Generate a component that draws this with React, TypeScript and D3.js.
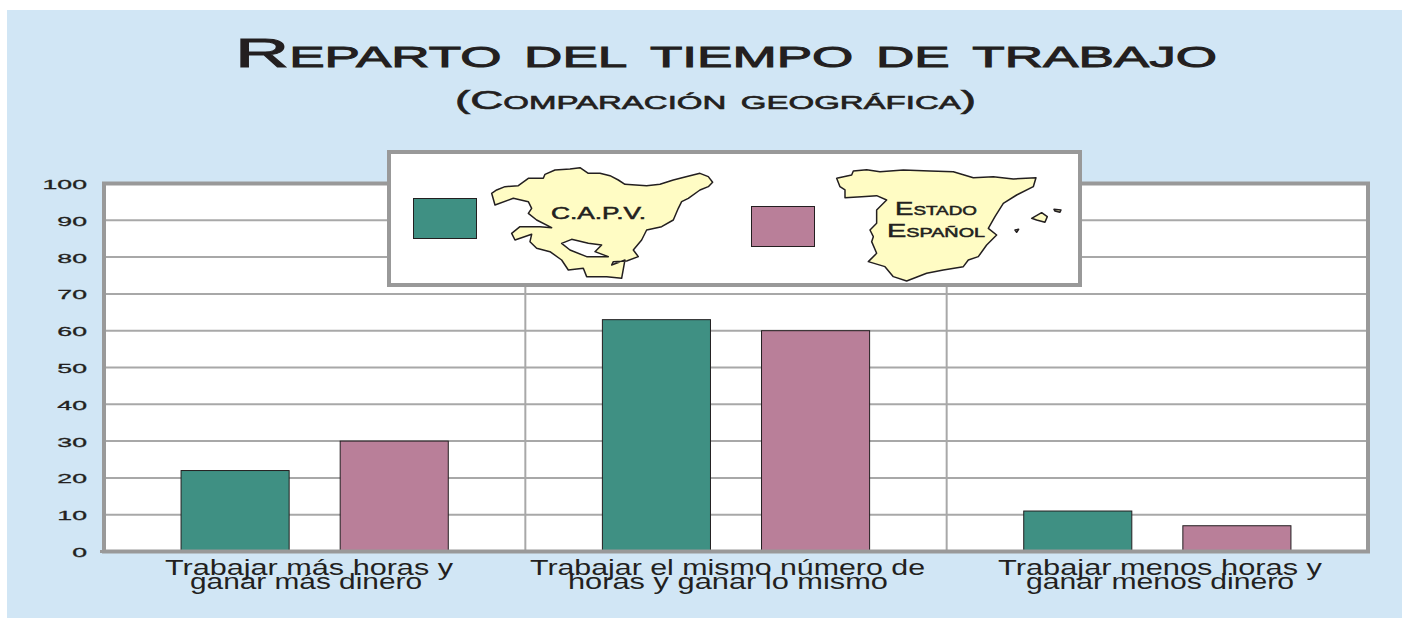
import React, { useRef, useEffect } from 'react';
import * as d3 from 'd3';

const WIDTH = 1402;
const HEIGHT = 619;

const categories = ['mas', 'igual', 'menos'];
const categoryLines = [
  ['Trabajar más horas y', 'ganar más dinero'],
  ['Trabajar el mismo número de', 'horas y ganar lo mismo'],
  ['Trabajar menos horas y', 'ganar menos dinero'],
];
const lineStarts = [[165, 190], [530, 568], [998, 1026]];
const lineWidths = [[288, 232], [395, 320], [324, 268]];
const series = ['capv', 'estado'];
const capvValues = [22, 63, 11];
const estadoValues = [30, 60, 7];
const yTicks = [0, 10, 20, 30, 40, 50, 60, 70, 80, 90, 100];

const COLORS = { capv: '#3f9083', estado: '#b97f99' };
const BG = '#d1e6f5';
const GRID = '#a8a8a8';
const FRAME = '#999999';
const INK = '#231f20';
const CREAM = '#fffcc4';
const SANS = '"Liberation Sans", Arial, sans-serif';

// map outlines, traced by eye (local drawing units, 3 per pixel)
const capvOutline = [[335,145],[350,135],[375,125],[415,122],[445,100],[490,100],[495,88],[525,75],[570,72],[600,68],[625,85],[660,85],[690,92],[715,105],[735,118],[800,122],[840,118],[880,105],[930,92],[960,85],[985,95],[998,112],[985,125],[960,135],[925,160],[905,170],[895,190],[880,225],[845,245],[800,255],[785,285],[760,315],[775,335],[740,348],[700,350],[695,360],[735,345],[725,400],[680,395],[620,395],[610,370],[565,375],[545,345],[510,320],[470,310],[450,290],[455,268],[405,285],[395,265],[420,245],[480,245],[515,248],[470,225],[445,205],[455,190],[445,170],[400,160],[345,180]];
const capvHole = [[545,295],[575,283],[625,295],[665,300],[645,320],[685,335],[620,335],[570,315]];
const spainOutline = [[320,100],[365,90],[370,78],[410,74],[450,80],[520,75],[600,78],[670,80],[730,98],[790,95],[850,102],[918,98],[910,125],[860,150],[820,175],[795,215],[775,250],[800,270],[770,300],[745,335],[715,345],[700,365],[640,375],[590,385],[530,408],[490,395],[465,365],[415,350],[440,325],[425,290],[430,275],[420,255],[440,235],[440,195],[470,165],[440,152],[395,155],[345,158],[345,135],[330,125]];
const spainIslands = [
  [[905,220],[935,203],[952,215],[945,232],[920,225]],
  [[972,193],[993,195],[990,202],[975,198]],
  [[855,255],[866,253],[860,262]],
];

const App = () => {
  const svgRef = useRef<SVGSVGElement>(null);

  useEffect(() => {
    const svg = d3.select(svgRef.current);
    svg.selectAll('*').remove();

    svg.append('rect').attr('x', 7).attr('y', 10).attr('width', WIDTH - 7).attr('height', 608).attr('fill', BG);

    const margin = { top: 183.5, right: 34, bottom: 67.5, left: 104 };
    const plotWidth = WIDTH - margin.left - margin.right;
    const plotHeight = HEIGHT - margin.top - margin.bottom;
    const x0 = d3.scaleBand().domain(categories).range([margin.left, WIDTH - margin.right]);
    const x1 = d3.scaleBand().domain(series).range([0, x0.bandwidth()]).paddingInner(51 / 159).paddingOuter(77 / 159);
    const y = d3.scaleLinear().domain([0, 100]).range([HEIGHT - margin.bottom, margin.top]);

    svg.append('rect')
      .attr('x', margin.left).attr('y', margin.top)
      .attr('width', plotWidth).attr('height', plotHeight)
      .attr('fill', '#fff');

    // y axis: gridlines and stretched labels
    const yAxis = svg.append('g')
      .attr('transform', `translate(${margin.left},0)`)
      .call(d3.axisLeft(y).tickValues(yTicks).tickSize(-plotWidth).offset(0).tickFormat(d3.format('d')));
    yAxis.select('.domain').remove();
    yAxis.selectAll('.tick line').attr('stroke', GRID).attr('stroke-width', 2);
    yAxis.selectAll('.tick text')
      .attr('x', null).attr('dy', null)
      .attr('transform', 'translate(-17,5.5) scale(2.05,1)')
      .attr('text-anchor', 'end')
      .attr('fill', INK)
      .attr('stroke', INK)
      .attr('stroke-width', 0.3)
      .style('font-family', SANS)
      .style('font-size', '13px');

    // group dividers
    svg.append('g').selectAll('line')
      .data(categories.slice(1))
      .enter().append('line')
      .attr('x1', d => x0(d)).attr('x2', d => x0(d))
      .attr('y1', margin.top).attr('y2', y(0))
      .attr('stroke', GRID).attr('stroke-width', 2);

    // bars
    const groups = svg.append('g').selectAll('g')
      .data(categories)
      .enter().append('g')
      .attr('transform', d => `translate(${x0(d)},0)`);
    groups.selectAll('rect')
      .data((d, i) => [
        { key: 'capv', value: capvValues[i] },
        { key: 'estado', value: estadoValues[i] },
      ])
      .enter().append('rect')
      .attr('x', d => x1(d.key))
      .attr('y', d => y(d.value))
      .attr('width', x1.bandwidth())
      .attr('height', d => y(0) - y(d.value))
      .attr('fill', d => COLORS[d.key])
      .attr('stroke', INK)
      .attr('stroke-width', 1);

    // plot frame
    svg.append('rect')
      .attr('x', margin.left).attr('y', margin.top)
      .attr('width', plotWidth).attr('height', plotHeight)
      .attr('fill', 'none').attr('stroke', FRAME).attr('stroke-width', 4);
    svg.append('line')
      .attr('x1', 100).attr('x2', margin.left).attr('y1', y(0)).attr('y2', y(0))
      .attr('stroke', FRAME).attr('stroke-width', 3);

    // category labels
    categories.forEach((c, i) => {
      categoryLines[i].forEach((t, j) => {
        svg.append('text')
          .attr('x', lineStarts[i][j]).attr('y', 575 + j * 14)
          .attr('textLength', lineWidths[i][j])
          .attr('lengthAdjust', 'spacingAndGlyphs')
          .attr('fill', INK)
          .style('font-family', SANS)
          .style('font-size', '22px')
          .text(t);
      });
    });

    // titles
    const smallCaps = (txt, tx, ty, size, len, thicken = 0, wordGap = 0) =>
      svg.append('text')
        .attr('x', tx).attr('y', ty)
        .attr('textLength', len)
        .attr('lengthAdjust', 'spacingAndGlyphs')
        .attr('fill', INK)
        .attr('stroke', INK)
        .attr('stroke-width', thicken)
        .style('font-family', SANS)
        .style('font-variant', 'small-caps')
        .style('word-spacing', `${wordGap}px`)
        .style('font-size', `${size}px`)
        .text(txt);

    smallCaps('Reparto del tiempo de trabajo', 235, 67, 41, 982, 0.9, 1);
    smallCaps('(Comparación geográfica)', 455, 109, 25, 521, 0.6, 1);

    // legend box
    const legend = svg.append('g');
    legend.append('rect')
      .attr('x', 389).attr('y', 152).attr('width', 691).attr('height', 133)
      .attr('fill', '#fff').attr('stroke', FRAME).attr('stroke-width', 4);
    legend.append('rect')
      .attr('x', 413.5).attr('y', 198.5).attr('width', 63).attr('height', 40)
      .attr('fill', COLORS.capv).attr('stroke', INK).attr('stroke-width', 1);
    legend.append('rect')
      .attr('x', 751.5).attr('y', 206.5).attr('width', 63).attr('height', 40)
      .attr('fill', COLORS.estado).attr('stroke', INK).attr('stroke-width', 1);

    const outline = d3.line().curve(d3.curveLinearClosed);
    const drawShape = (parent, pts, fill) =>
      parent.append('path')
        .attr('d', outline(pts))
        .attr('fill', fill)
        .attr('stroke', INK)
        .attr('stroke-width', 4.5)
        .attr('stroke-linejoin', 'round');

    const capvMap = legend.append('g').attr('transform', 'translate(380,145) scale(0.3333)');
    drawShape(capvMap, capvOutline, CREAM);
    drawShape(capvMap, capvHole, '#fff');

    const spainMap = legend.append('g').attr('transform', 'translate(730,145) scale(0.3333)');
    drawShape(spainMap, spainOutline, CREAM);
    spainIslands.forEach(p => drawShape(spainMap, p, CREAM));

    smallCaps('C.A.P.V.', 551, 219, 16, 95, 0.5);
    smallCaps('Estado', 895, 215, 19, 82, 0.5);
    smallCaps('Español', 887, 237, 19, 98, 0.5);
  }, []);

  return (
    <svg
      ref={svgRef}
      width={WIDTH}
      height={HEIGHT}
      style={{ position: 'absolute', left: 0, top: 0, display: 'block' }}
    />
  );
};

export default App;
